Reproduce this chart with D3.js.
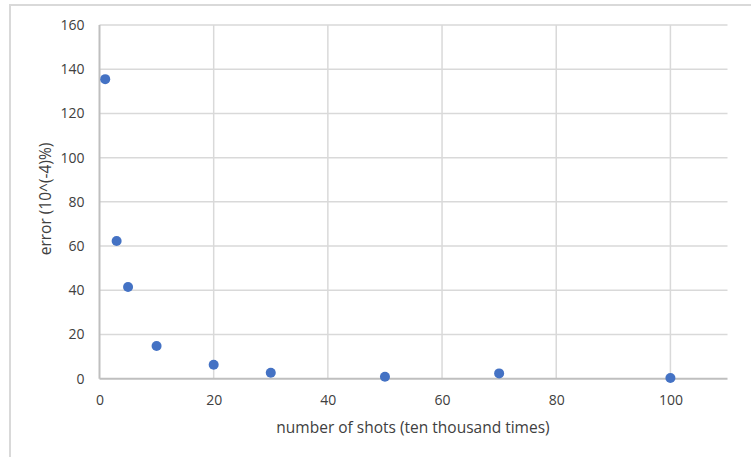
<!DOCTYPE html>
<html><head><meta charset="utf-8">
<script src="https://cdn.jsdelivr.net/npm/d3@7"></script>
<style>body{margin:0;background:#fff}svg{display:block}</style>
</head><body>
<script>
const shots = [1, 3, 5, 10, 20, 30, 50, 70, 100];
const errors = [135.5, 62.3, 41.5, 14.8, 6.3, 2.7, 0.9, 2.4, 0.3];
const xTicks = [0, 20, 40, 60, 80, 100];
const yTicks = [0, 20, 40, 60, 80, 100, 120, 140, 160];
const xLabel = "number of shots (ten thousand times)";
const yLabel = "error (10^(-4)%)";

const W = 751, H = 457;
const svg = d3.select("body").append("svg").attr("width", W).attr("height", H);
const font = "'Open Sans', sans-serif";

// outer frame
svg.append("rect").attr("x", 10).attr("y", 5).attr("width", 745).attr("height", 470)
  .attr("fill", "none").attr("stroke", "#d9d9d9").attr("stroke-width", 2);

const x = d3.scaleLinear().domain([0, 110]).range([99.5, 727.5]);
const y = d3.scaleLinear().domain([0, 160]).range([378.7, 25]);

// gridlines
svg.append("g").selectAll("line.h").data(yTicks.filter(d => d > 0)).join("line")
  .attr("x1", x(0)).attr("x2", x(110)).attr("y1", d => y(d)).attr("y2", d => y(d))
  .attr("stroke", "#d9d9d9").attr("stroke-width", 1.5);
svg.append("g").selectAll("line.v").data(xTicks.filter(d => d > 0)).join("line")
  .attr("x1", d => x(d)).attr("x2", d => x(d)).attr("y1", y(0)).attr("y2", y(160))
  .attr("stroke", "#d9d9d9").attr("stroke-width", 1.5);

// axes
const xAxis = svg.append("g").attr("transform", `translate(0,${y(0)})`)
  .call(d3.axisBottom(x).tickValues(xTicks).tickSize(0).tickPadding(16));
const yAxis = svg.append("g").attr("transform", `translate(${x(0)},0)`)
  .call(d3.axisLeft(y).tickValues(yTicks).tickSize(0).tickPadding(15));
[xAxis, yAxis].forEach(a => {
  a.select(".domain").attr("stroke", "#bfbfbf").attr("stroke-width", 2);
  a.selectAll("text").attr("font-family", font).attr("font-size", 14).attr("fill", "#404040");
});
yAxis.select(".domain").attr("d", `M0,${y(0)}V${y(160)}`);
xAxis.select(".domain").attr("d", `M${x(0)},0H${x(110)}`);

// points
svg.append("g").selectAll("circle").data(shots).join("circle")
  .attr("cx", d => x(d)).attr("cy", (d, i) => y(errors[i])).attr("r", 5)
  .attr("fill", "#4472c4");

// labels
svg.append("text").attr("x", 413).attr("y", 433).attr("text-anchor", "middle")
  .attr("font-family", font).attr("font-size", 15.5).attr("fill", "#404040").text(xLabel);
svg.append("text").attr("transform", "translate(51,199) rotate(-90)").attr("text-anchor", "middle")
  .attr("font-family", font).attr("font-size", 15.5).attr("fill", "#404040").text(yLabel);
</script>
</body></html>
